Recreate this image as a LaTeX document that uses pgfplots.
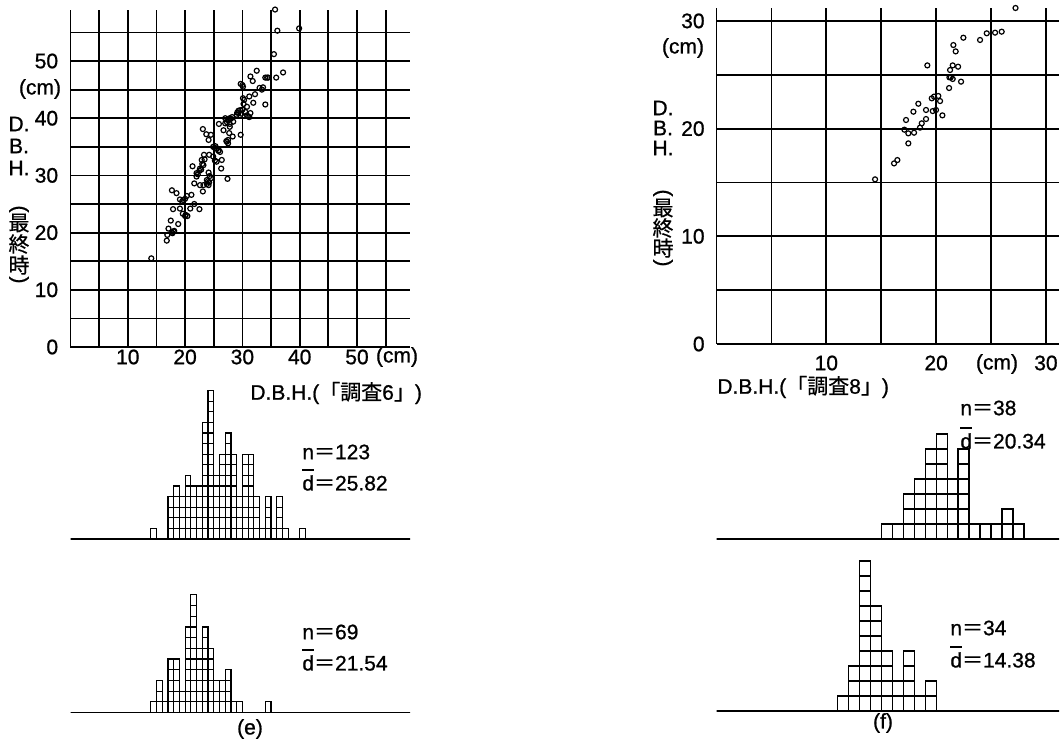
\documentclass[border=0pt]{standalone}
\usepackage{graphicx}
\usepackage{pgfplots}
\pgfplotsset{compat=1.18}
\usepackage{pgfplotstable}
\usepackage{fontspec}
\setmainfont{Liberation Sans}[FakeBold=0.9]
\newfontfamily\jp{Noto Sans CJK JP}[FakeBold=0.6]

\pgfplotstableread{
x c
14 1
15 0
16 0
17 4
18 5
19 4
20 6
21 5
22 5
23 11
24 14
25 6
26 8
27 10
28 8
29 4
30 8
31 8
32 4
33 1
34 4
35 1
36 4
37 1
38 0
39 0
40 1
41 0
}\histA

\pgfplotstableread{
x c
14 1
15 3
16 1
17 5
18 5
19 2
20 8
21 11
22 6
23 8
24 6
25 3
26 3
27 4
28 1
29 1
30 0
31 0
32 0
33 0
34 1
35 0
}\histB

\pgfplotstableread{
x c
15 1
16 1
17 3
18 4
19 6
20 7
21 4
22 6
23 1
24 1
25 1
26 2
27 1
28 0
}\histC

\pgfplotstableread{
x c
11 1
12 3
13 10
14 7
15 4
16 2
17 4
18 1
19 2
20 0
}\histD

\pgfplotsset{
  scat/.style={
    scale only axis, anchor=south west, clip=false,
    axis x line*=bottom, axis y line*=left,
    axis line style={line width=0.9pt,-},
    grid=major, major grid style={line width=0.9pt,black},
    major tick length=0pt,
    ticklabel style={font=\fontsize{10.5}{12}\selectfont},
  },
  hist/.style={scale only axis, anchor=south west, clip=false, hide axis, ymin=0},
  cells/.style={ybar interval, draw=black, fill=none, line width=0.6pt, mark=none},
  thinline/.style={line width=0.6pt, black, mark=none},
}

\begin{document}
\begin{tikzpicture}
\path[use as bounding box] (0,0) rectangle (530.5pt,-371.5pt);

% ---------- left scatter ----------
\begin{axis}[scat, at={(35.25pt,-173.5pt)}, width=169.75pt, height=168.5pt,
  xmin=0, xmax=59.25, ymin=0, ymax=58.92,
  xtick={0,5,...,55}, xticklabels={,,10,,20,,30,,40,,50,},
  ytick={0,5,...,55}, yticklabels={0,,10,,20,,30,,40,,50,},
  xticklabel style={anchor=center, yshift=-5pt},
  yticklabel style={anchor=east, inner sep=0pt, xshift=-6pt}]
\addplot[only marks, mark=o, mark size=1.25pt, line width=0.6pt] coordinates {
(35.7,59.0) (36.1,55.3) (39.9,55.7) (35.5,51.2) (35.9,47.1) (37.1,48.0) (32.5,48.3) (31.4,47.3) (31.8,46.5) (34.0,47.1) (34.3,47.1) (34.0,42.4) (33.4,45.0) (32.2,44.2) (31.2,43.8) (31.9,42.7) (29.7,46.0) (30.1,45.5) (30.3,43.2) (30.8,42.0) (30.5,41.1) (31.0,40.3) (31.4,40.9) (29.6,41.4) (29.3,40.9) (29.0,40.6) (29.7,37.1) (27.8,40.0) (27.4,39.7) (27.0,39.1) (27.8,38.5) (28.4,39.4) (25.9,39.0) (26.7,37.9) (27.7,37.4) (28.3,36.8) (27.3,35.9) (27.5,35.6) (27.4,29.4) (23.1,38.1) (23.7,37.2) (24.5,37.1) (24.1,36.2) (24.9,35.0) (25.5,34.7) (26.1,34.1) (23.3,33.6) (24.2,33.6) (24.9,33.3) (25.5,32.4) (26.4,32.7) (26.3,31.2) (22.9,32.7) (23.2,31.8) (22.6,31.2) (22.0,30.4) (21.3,31.6) (24.1,30.5) (24.3,29.9) (22.0,29.8) (21.6,28.6) (22.6,28.3) (23.2,28.3) (23.8,29.2) (24.1,28.3) (23.1,27.2) (17.7,27.4) (18.5,26.9) (19.1,25.8) (19.7,25.7) (20.3,26.4) (21.1,26.6) (21.6,25.0) (20.9,24.2) (22.5,24.1) (17.9,24.1) (19.1,24.2) (19.6,23.3) (20.0,22.9) (20.4,22.9) (17.5,22.1) (18.8,21.5) (17.1,20.7) (16.9,19.6) (17.7,20.0) (18.0,20.2) (16.8,18.6) (14.1,15.5)
(27.0,40.0) (27.6,39.8) (28.0,39.9) (27.3,39.3) (27.8,39.0) (28.2,40.2) (29.3,41.3) (29.8,40.8) (30.0,41.5) (29.1,41.0) (30.2,42.5) (30.1,43.5) (33.0,45.3) (33.6,45.4) (34.5,47.1) (30.0,45.8) (24.0,29.0) (24.5,29.5) (23.8,28.5) (24.2,28.8) (25.2,34.8) (25.8,34.3) (25.3,35.1) (22.5,30.8) (22.2,30.2) (22.8,31.0) (23.0,32.0) (23.4,32.8) (20.0,25.9) (19.5,25.5) (20.1,23.1) (17.8,19.9) (18.1,20.3) (27.5,36.2) (27.2,36.0) (25.9,34.4) (30.8,40.5) (31.2,40.2) (25.2,32.6)
};
\end{axis}

% ---------- right scatter ----------
\begin{axis}[scat, at={(358.25pt,-172pt)}, width=171.25pt, height=168pt,
  xmin=0, xmax=31.19, ymin=0, ymax=31.2,
  xtick={0,5,...,30}, xticklabels={,,10,,20,,30},
  ytick={0,5,...,30}, yticklabels={0,,10,,20,,30},
  xticklabel style={anchor=center, yshift=-9.5pt},
  yticklabel style={anchor=east, inner sep=0pt, xshift=-5.75pt}]
\addplot[only marks, mark=o, mark size=1.25pt, line width=0.6pt] coordinates {
(27.23,31.20) (22.48,28.44) (24.00,28.23) (24.61,28.85) (25.37,28.91) (25.97,29.00) (21.57,27.76) (21.78,27.17) (19.20,25.87) (21.51,25.87) (22.00,25.75) (21.27,25.44) (21.21,24.76) (21.33,24.76) (21.51,24.61) (22.27,24.36) (21.18,23.77) (19.60,22.81) (19.81,22.97) (20.20,23.03) (20.36,22.56) (18.38,22.31) (19.08,21.73) (19.69,21.63) (19.99,21.73) (17.93,21.57) (20.57,21.23) (17.26,20.80) (19.08,20.89) (18.69,20.49) (18.53,20.09) (17.11,19.90) (17.47,19.56) (17.99,19.62) (17.47,18.63) (16.17,16.77) (16.47,17.08) (14.44,15.29)
};
\end{axis}

% ---------- histograms ----------
\begin{axis}[hist, at={(35.25pt,-269.5pt)}, width=169.75pt, height=79.5pt,
  xmin=0, xmax=59.25, ymax=15.0]
\pgfplotsinvokeforeach{1,...,14}{
  \addplot[cells] table[x=x, y expr={min(\thisrow{c},#1)}] {\histA};
}
\addplot[thinline] coordinates {(0,0) (59.25,0)};
\addplot[thinline] coordinates {(25.82,0) (25.82,14.72)};
\end{axis}

\begin{axis}[hist, at={(35.25pt,-356.25pt)}, width=169.75pt, height=81.25pt,
  xmin=0, xmax=59.25, ymax=15.19]
\pgfplotsinvokeforeach{1,...,11}{
  \addplot[cells] table[x=x, y expr={min(\thisrow{c},#1)}] {\histB};
}
\addplot[thinline] coordinates {(0,0) (59.25,0)};
\addplot[thinline] coordinates {(21.54,0) (21.54,14.9)};
\end{axis}

\begin{axis}[hist, at={(358.25pt,-269.5pt)}, width=171.25pt, height=82pt,
  xmin=0, xmax=31.19, ymax=10.93]
\pgfplotsinvokeforeach{1,...,7}{
  \addplot[cells] table[x=x, y expr={min(\thisrow{c},#1)}] {\histC};
}
\addplot[thinline] coordinates {(0,0) (31.19,0)};
\addplot[thinline] coordinates {(20.34,0) (20.34,10.93)};
\end{axis}

\begin{axis}[hist, at={(358.25pt,-355.5pt)}, width=171.25pt, height=80.5pt,
  xmin=0, xmax=31.19, ymax=10.73]
\pgfplotsinvokeforeach{1,...,10}{
  \addplot[cells] table[x=x, y expr={min(\thisrow{c},#1)}] {\histD};
}
\addplot[thinline] coordinates {(0,0) (31.19,0)};
\addplot[thinline] coordinates {(14.38,0) (14.38,10.73)};
\end{axis}

% ---------- texts ----------
\begin{scope}[x=0.5pt, y=-0.5pt, font=\fontsize{10.5}{12}\selectfont]
\newcommand{\dbar}{\rlap{\rule[0.95em]{0.556em}{0.6pt}}d}
\newcommand{\vopen}{\rotatebox{-90}{(}}
\newcommand{\vclose}{\rotatebox{-90}{)}}
% left scatter labels
\node at (40,89) {(cm)};
\node at (397,357) {(cm)};
\node at (19,124) {D.};
\node at (19,146) {B.};
\node at (19,168) {H.};
\node at (19,209) {\vopen};
\node at (19,223) {\jp 最};
\node at (19,244) {\jp 終};
\node at (19,265) {\jp 時};
\node at (19,280) {\vclose};
\node[anchor=west, inner sep=0pt] at (250,393) {D.B.H.({\jp 「調査}6{\jp 」})};
% right scatter labels
\node at (683,48) {(cm)};
\node at (997,364) {(cm)};
\node at (663,108) {D.};
\node at (663,128) {B.};
\node at (663,148) {H.};
\node at (663,193) {\vopen};
\node at (663,208) {\jp 最};
\node at (663,228) {\jp 終};
\node at (663,248) {\jp 時};
\node at (663,263) {\vclose};
\node[anchor=west, inner sep=0pt] at (717,387) {D.B.H.({\jp 「調査}8{\jp 」})};
% histogram annotations
\node[anchor=west, inner sep=0pt] at (302,452) {n{\jp ＝}123};
\node[anchor=west, inner sep=0pt] at (302,480) {\dbar{\jp ＝}25.82};
\node[anchor=west, inner sep=0pt] at (302,632) {n{\jp ＝}69};
\node[anchor=west, inner sep=0pt] at (302,660) {\dbar{\jp ＝}21.54};
\node[anchor=west, inner sep=0pt] at (960,408) {n{\jp ＝}38};
\node[anchor=west, inner sep=0pt] at (960,438) {\dbar{\jp ＝}20.34};
\node[anchor=west, inner sep=0pt] at (950,628) {n{\jp ＝}34};
\node[anchor=west, inner sep=0pt] at (950,657) {\dbar{\jp ＝}14.38};
\node at (250,729) {(e)};
\node at (883,723) {(f)};
\end{scope}
\end{tikzpicture}
\end{document}
